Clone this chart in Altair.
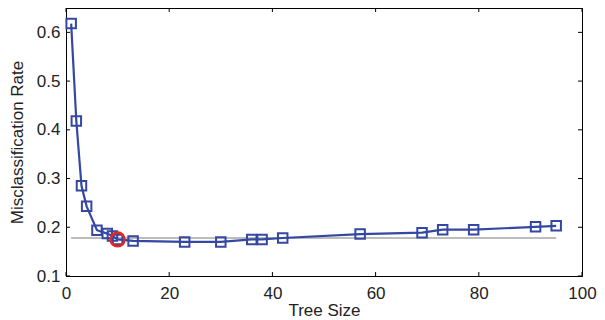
import altair as alt
import pandas as pd

# Data
tree_size = [1, 2, 3, 4, 6, 8, 9, 10, 13, 23, 30, 36, 38, 42, 57, 69, 73, 79, 91, 95]
misclass = [0.618, 0.418, 0.285, 0.243, 0.194, 0.187, 0.182, 0.175, 0.172, 0.170,
            0.170, 0.175, 0.175, 0.178, 0.186, 0.189, 0.195, 0.195, 0.201, 0.203]
best_size = [10]
best_rate = [0.175]
ref_x = [1]
ref_x2 = [95]
ref_y = [0.178]
x_ticks = [0, 20, 40, 60, 80, 100]
y_ticks = [0.1, 0.2, 0.3, 0.4, 0.5, 0.6]

W, H = 516, 268
FONT = "Liberation Sans"
BLUE = "#3447a3"

df = pd.DataFrame({"size": tree_size, "rate": misclass})
best = pd.DataFrame({"size": best_size, "rate": best_rate})
ref = pd.DataFrame({"x": ref_x, "x2": ref_x2, "y": ref_y})
xt = pd.DataFrame({"t": x_ticks})
yt = pd.DataFrame({"t": y_ticks})

xscale = alt.Scale(domain=[0, 100], nice=False, zero=False)
yscale = alt.Scale(domain=[0.1, 0.65], nice=False, zero=False)

xaxis = alt.Axis(values=x_ticks, title="Tree Size", ticks=False, grid=False,
                 labelPadding=9, titlePadding=1, format="d", labelFlush=False,
                 labelOverlap=False)
yaxis = alt.Axis(values=y_ticks, title="Misclassification Rate", ticks=False, grid=False,
                 labelPadding=6, titlePadding=10, format=".1f", labelFlush=False,
                 labelOverlap=False)

X = alt.X("size:Q", scale=xscale, axis=xaxis)
Y = alt.Y("rate:Q", scale=yscale, axis=yaxis)

refline = alt.Chart(ref).mark_rule(color="#a6a6a6", strokeWidth=1.5).encode(
    x=alt.X("x:Q", scale=xscale, axis=xaxis), x2="x2:Q",
    y=alt.Y("y:Q", scale=yscale, axis=yaxis))

line = alt.Chart(df).mark_line(color=BLUE, strokeWidth=2.2).encode(x=X, y=Y)
pts = alt.Chart(df).mark_point(shape="square", filled=False, color=BLUE,
                               size=90, strokeWidth=2, opacity=1).encode(x=X, y=Y)
circ = alt.Chart(best).mark_point(shape="circle", filled=False, color="#e8251f",
                                  size=190, strokeWidth=2.5, opacity=1).encode(x=X, y=Y)

tick_len = 4
xb = alt.Chart(xt).mark_rule(color="black", strokeWidth=1).encode(
    x=alt.X("t:Q", scale=xscale, axis=xaxis), y=alt.value(H), y2=alt.value(H - tick_len))
xtp = alt.Chart(xt).mark_rule(color="black", strokeWidth=1).encode(
    x=alt.X("t:Q", scale=xscale, axis=xaxis), y=alt.value(0), y2=alt.value(tick_len))
yl = alt.Chart(yt).mark_rule(color="black", strokeWidth=1).encode(
    y=alt.Y("t:Q", scale=yscale, axis=yaxis), x=alt.value(0), x2=alt.value(tick_len))
yr = alt.Chart(yt).mark_rule(color="black", strokeWidth=1).encode(
    y=alt.Y("t:Q", scale=yscale, axis=yaxis), x=alt.value(W - tick_len), x2=alt.value(W))

chart = alt.layer(refline, line, pts, circ, xb, xtp, yl, yr).properties(
    width=W, height=H,
    autosize=alt.AutoSizeParams(type="none"),
    padding={"left": 58, "top": 0, "right": 15, "bottom": 42},
).configure_view(stroke="black", strokeWidth=1).configure_axis(
    domainColor="black", domainWidth=1,
    labelFont=FONT, labelFontSize=17, labelColor="#222222",
    titleFont=FONT, titleFontSize=17, titleColor="#222222", titleFontWeight="normal",
)

chart.save("out.html", embed_options={"renderer": "svg", "actions": False})
